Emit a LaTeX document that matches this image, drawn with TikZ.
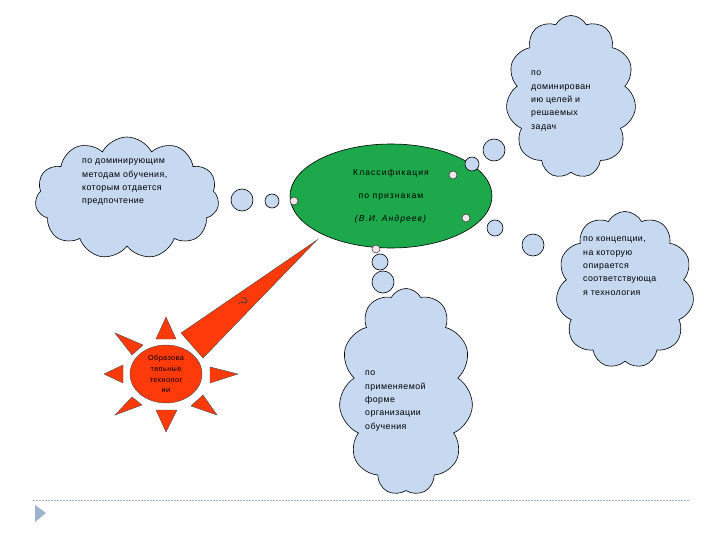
\documentclass[tikz,border=0pt]{standalone}
\usepackage{fontspec}
\setmainfont{Liberation Sans}[LetterSpace=5]
\newfontfamily\ancho{Liberation Sans}[LetterSpace=12]
\usetikzlibrary{shapes.symbols,shapes.geometric,positioning}
\definecolor{nubeazul}{HTML}{C6D9F1}
\definecolor{verde}{HTML}{1DA84B}
\definecolor{solrojo}{HTML}{FF3A0A}
\definecolor{rosa}{HTML}{F4E4EC}
\definecolor{gris}{HTML}{9DB3CB}
\tikzset{
	nube/.style={cloud, cloud puffs=11, cloud puff arc=125, cloud ignores aspect,
		draw=black, fill=nubeazul, line width=0.6pt, inner sep=0pt},
	burbuja/.style={circle, draw=black, fill=nubeazul, line width=0.6pt,
		inner sep=0pt},
	punto/.style={circle, draw=black!80, fill=rosa, line width=0.5pt,
		minimum size=8pt, inner sep=0pt},
	rayo/.style={draw=black!70, fill=solrojo, line width=0.4pt},
	texto/.style={font=\fontsize{8.8}{13.3}\selectfont, align=left,
		anchor=north west, inner sep=0pt}
}

\begin{document}
\begin{tikzpicture}[x=1pt, y=-1pt]
	\useasboundingbox (0,0) rectangle (720,540);
	
	\node[nube, minimum width=184, minimum height=122] (nubeizq) at (127,198) {};
	\node[texto] (txtizq) at (82,159) {по доминирующим\\методам обучения,\\которым отдается\\предпочтение};
	
	\node[nube, minimum width=130, minimum height=163] (nubearr) at (571,97) {};
	\node[texto] (txtarr) at (531,71) {по\\доминирован\\ию целей и\\решаемых\\задач};
	
	\node[nube, minimum width=138, minimum height=157] (nubeder) at (625,290) {};
	\node[texto] (txtder) at (583,237) {по концепции,\\на которую\\опирается\\соответствующа\\я технология};
	
	\node[nube, minimum width=134, minimum height=207] (nubeaba) at (406,392) {};
	\node[texto] (txtaba) at (365,371) {по\\применяемой\\форме\\организации\\обучения};
	
	\node[ellipse, draw=black, fill=verde, line width=0.6pt, minimum width=202,
		minimum height=104, align=center, font=\ancho\fontsize{8.6}{23}\selectfont]
		(clasif) at (391,196) {Классификация\\по признакам\\\textit{(В.И. Андреев)}};
	\node[punto] (p1) at (294,201) {};
	\node[punto] (p2) at (453,175) {};
	\node[punto] (p3) at (466,218) {};
	\node[punto] (p4) at (376,249) {};
	
	\node[burbuja, minimum size=22] (bizq1) at (242,200) {};
	\node[burbuja, minimum size=14] (bizq2) at (272,201) {};
	\node[burbuja, minimum size=22] (barr1) at (494,150) {};
	\node[burbuja, minimum size=14] (barr2) at (472,164) {};
	\node[burbuja, minimum size=22] (bder1) at (533,245) {};
	\node[burbuja, minimum size=16] (bder2) at (495,228) {};
	\node[burbuja, minimum size=16] (baba1) at (380,262) {};
	\node[burbuja, minimum size=22] (baba2) at (383,282) {};
	
	% sol
	\filldraw[rayo] (181,333) -- (317,240) -- (203,358) -- cycle;
	\filldraw[rayo] (166,317) -- (156,339) -- (176,339) -- cycle;
	\filldraw[rayo] (156,410) -- (177,410) -- (166,432) -- cycle;
	\filldraw[rayo] (104,374) -- (123,365) -- (123,383) -- cycle;
	\filldraw[rayo] (210,367) -- (210,383) -- (238,374) -- cycle;
	\filldraw[rayo] (115,333) -- (143,345) -- (132,355) -- cycle;
	\filldraw[rayo] (115,415) -- (132,397) -- (142,405) -- cycle;
	\filldraw[rayo] (217,415) -- (203,395) -- (191,406) -- cycle;
	\node[rotate=-55, font=\fontsize{13}{13}\selectfont, text=black!75] (pregunta) at (243,302) {?};
	\node[ellipse, rayo, minimum width=72, minimum height=58, align=center,
		inner sep=0pt, font=\fontsize{7.3}{10.7}\selectfont] (sol) at (166,374)
		{Образова\\тельные\\технолог\\ии};
	
	\draw[gris, line width=0.6pt, dash pattern=on 2pt off 1pt] (33,500) -- (690,500);
	\fill[gris] (35,505) -- (46,513) -- (35,522) -- cycle;
\end{tikzpicture}
\end{document}
